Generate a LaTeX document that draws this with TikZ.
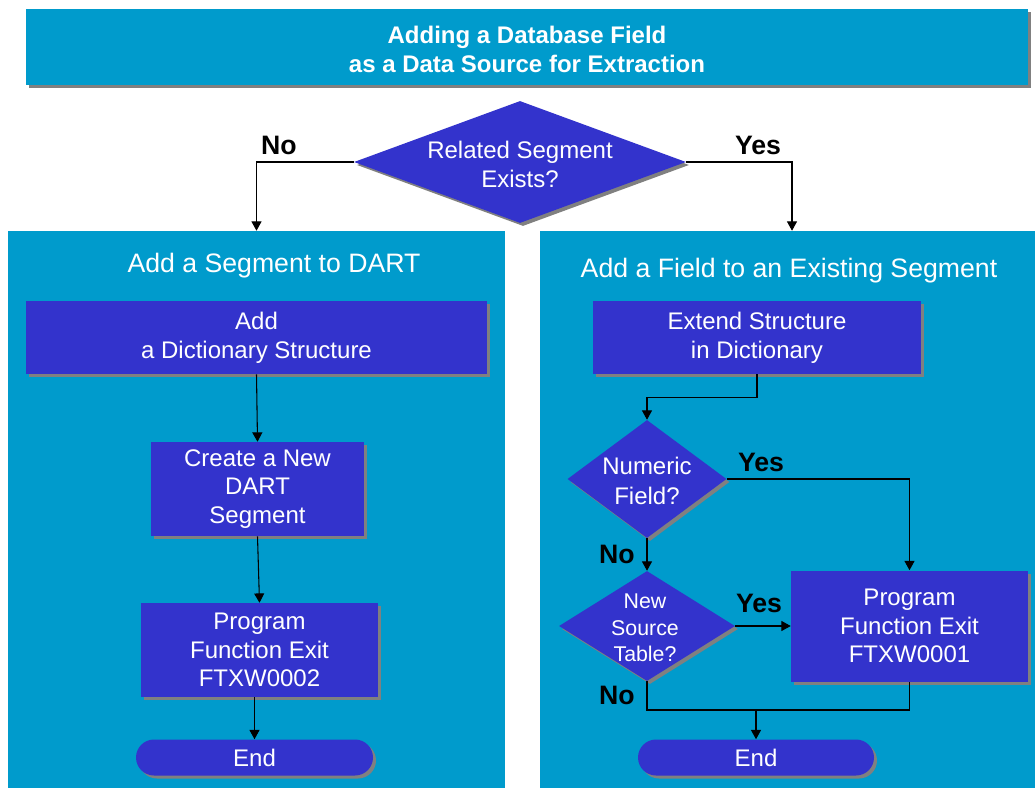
\documentclass[tikz,border=0pt]{standalone}
\usepackage{fontspec}
\setmainfont{Liberation Sans}
\usetikzlibrary{shapes.geometric,shadows,arrows.meta,calc}
\definecolor{sapteal}{RGB}{0,155,204}
\definecolor{sapblue}{RGB}{51,51,204}
\definecolor{shadowgray}{RGB}{128,128,128}
\begin{document}
\begin{tikzpicture}[x=0.75pt,y=-0.75pt,
  shad/.style={drop shadow={shadow xshift=2.25pt,shadow yshift=-2.25pt,fill=shadowgray,opacity=1}},
  bluebox/.style={rectangle,fill=sapblue,draw=none,text=white,align=center,inner sep=0pt,
    font=\fontsize{18}{21.5}\selectfont,shad},
  decision/.style={diamond,fill=sapblue,draw=none,inner sep=0pt,shad},
  dtext/.style={text=white,align=center,inner sep=0pt},
  endbox/.style={rectangle,rounded corners=13.5pt,fill=sapblue,draw=none,text=white,inner sep=0pt,
    font=\fontsize{18}{20}\selectfont,shad},
  panel/.style={rectangle,fill=sapteal,draw=none,inner sep=0pt},
  ptitle/.style={text=white,inner sep=0pt,font=\fontsize{20}{24}\selectfont},
  lbl/.style={text=black,inner sep=0pt,font=\bfseries\fontsize{20}{23}\selectfont},
  arr/.style={draw=black,line width=0.8pt,-{Triangle[length=7pt,width=7.5pt]}},
  ln/.style={draw=black,line width=0.8pt}]
\useasboundingbox (0,0) rectangle (1035,788);
\fill[white] (0,0) rectangle (1035,788);

% title bar
\node[rectangle,fill=sapteal,draw=none,inner sep=0pt,shad,
  minimum width=1002*0.75pt,minimum height=76*0.75pt] (title) at (527,47) {};
\node[text=white,align=center,inner sep=0pt,font=\bfseries\fontsize{18}{21.75}\selectfont] (titletext) at (527,49)
  {Adding a Database Field\\as a Data Source for Extraction};

% panels
\node[panel,minimum width=497*0.75pt,minimum height=557*0.75pt] (lpanel) at (256.5,509.5) {};
\node[panel,minimum width=495*0.75pt,minimum height=557*0.75pt] (rpanel) at (787.5,509.5) {};
\node[ptitle] (ltitle) at (274,266) {Add a Segment to DART};
\node[ptitle] (rtitle) at (789,271) {Add a Field to an Existing Segment};

% top decision
\node[decision,minimum width=332*0.75pt,minimum height=122*0.75pt] (top) at (520,162) {};
\node[dtext,font=\fontsize{18}{21.75}\selectfont] (toptext) at (520,164) {Related Segment\\Exists?};

% left branch
\node[bluebox,minimum width=461*0.75pt,minimum height=73*0.75pt] (l1) at (256.5,337.5) {Add\\a Dictionary Structure};
\node[bluebox,minimum width=213*0.75pt,minimum height=94*0.75pt] (l2) at (257.5,489) {Create a New\\DART\\Segment};
\node[bluebox,minimum width=237*0.75pt,minimum height=94*0.75pt] (l3) at (259.5,650) {Program\\Function Exit\\FTXW0002};
\node[endbox,minimum width=237*0.75pt,minimum height=36*0.75pt] (lend) at (254.5,757.5) {End};

% right branch
\node[bluebox,minimum width=328*0.75pt,minimum height=73*0.75pt] (r1) at (757,337.5) {Extend Structure\\in Dictionary};
\node[decision,minimum width=159*0.75pt,minimum height=118*0.75pt] (d1) at (647,479) {};
\node[dtext,font=\fontsize{18}{22}\selectfont] (d1text) at (647,481) {Numeric\\Field?};
\node[decision,minimum width=176*0.75pt,minimum height=110*0.75pt] (d2) at (647,626) {};
\node[dtext,font=\fontsize{16}{20}\selectfont] (d2text) at (645,628) {New\\Source\\Table?};
\node[bluebox,minimum width=237*0.75pt,minimum height=111*0.75pt] (r2) at (909.5,626) {Program\\Function Exit\\FTXW0001};
\node[endbox,minimum width=236*0.75pt,minimum height=36*0.75pt] (rend) at (756,757.5) {End};
\coordinate (j) at (756,710);

% connectors
\draw[arr] (top.west) -| (lpanel.north);
\draw[arr] (top.east) -| ($(rpanel.north)+(4.5,0)$);
\draw[arr] (l1.south) -- (l2.north);
\draw[arr] (l2.south) -- (l3.north);
\draw[arr] (l3.south -| lend.north) -- (lend.north);
\draw[arr] (r1.south) -- ++(0,23) -| (d1.north);
\draw[arr] (d1.east) -| (r2.north);
\draw[arr] (d1.south) -- (d2.north);
\draw[arr] (d2.east) -- (r2.west);
\draw[ln] (d2.south) -- (d2.south |- j) -- (r2.south |- j) -- (r2.south);
\draw[arr] (j) -- (rend.north);

% labels
\node[lbl] (lno) at (279,145) {No};
\node[lbl] (lyes) at (758,145) {Yes};
\node[lbl] (yes1) at (761,462) {Yes};
\node[lbl] (no1) at (617,554) {No};
\node[lbl] (yes2) at (759,603) {Yes};
\node[lbl] (no2) at (617,695) {No};
\end{tikzpicture}
\end{document}
